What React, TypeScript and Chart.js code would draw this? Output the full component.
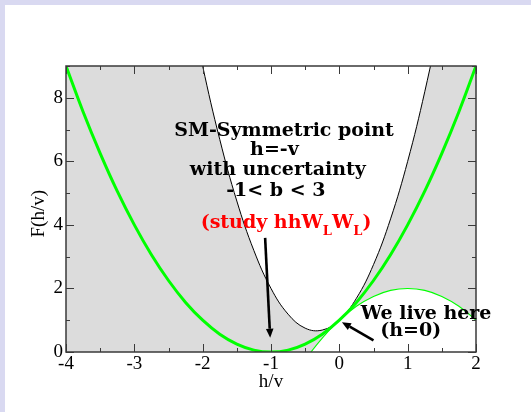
import React, { useEffect, useRef } from 'react';
import { Chart, registerables } from 'chart.js';

Chart.register(...registerables);

// h/v sample points
const H = [-4, -3.75, -3.5, -3.25, -3, -2.75, -2.5, -2.25, -2, -1.75, -1.5, -1.25, -1, -0.75, -0.5, -0.25, 0, 0.25, 0.5, 0.75, 1, 1.25, 1.5, 1.75, 2];
// SM curve (thick green)
const F_SM = [9, 7.56, 6.25, 5.06, 4, 3.06, 2.25, 1.56, 1, 0.56, 0.25, 0.06, 0, 0.06, 0.25, 0.56, 1, 1.56, 2.25, 3.06, 4, 5.06, 6.25, 7.56, 9];
// upper edge of band (black, b = 3)
const F_UPPER = [41, 35.69, 30.75, 26.19, 22, 18.19, 14.75, 11.69, 9, 6.69, 4.75, 3.19, 2, 1.19, 0.75, 0.69, 1, 1.69, 2.75, 4.19, 6, 8.19, 10.75, 13.69, 17];
// lower edge of band (thin green, b = -1)
const F_LOWER = [-23, -20.56, -18.25, -16.06, -14, -12.06, -10.25, -8.56, -7, -5.56, -4.25, -3.06, -2, -1.06, -0.25, 0.44, 1, 1.44, 1.75, 1.94, 2, 1.94, 1.75, 1.44, 1];

const X_TICKS = [-4, -3, -2, -1, 0, 1, 2];
const X_MINOR = [-3.5, -2.5, -1.5, -0.5, 0.5, 1.5];
const Y_TICKS = [0, 2, 4, 6, 8];
const Y_MINOR = [1, 3, 5, 7, 9];

type Piece = { t: string; sub?: boolean };
const LABELS: { pieces: Piece[]; h: number; f: number; color: string }[] = [
  { pieces: [{ t: 'SM-Symmetric point' }], h: -0.81, f: 6.8, color: '#000000' },
  { pieces: [{ t: 'h=-v' }], h: -0.95, f: 6.2, color: '#000000' },
  { pieces: [{ t: 'with uncertainty' }], h: -0.9, f: 5.57, color: '#000000' },
  { pieces: [{ t: '-1< b < 3' }], h: -0.93, f: 4.91, color: '#000000' },
  { pieces: [{ t: '(study hhW' }, { t: 'L', sub: true }, { t: 'W' }, { t: 'L', sub: true }, { t: ')' }], h: -0.78, f: 3.9, color: '#ff0000' },
  { pieces: [{ t: 'We live here' }], h: 1.27, f: 1.04, color: '#000000' },
  { pieces: [{ t: '(h=0)' }], h: 1.045, f: 0.49, color: '#000000' },
];

const ARROWS = [
  { from: [-1.086, 3.59], to: [-1.012, 0.45] },
  { from: [0.5, 0.365], to: [0.038, 0.94] },
];

const MAIN_FONT = 'bold 19px "DejaVu Serif"';
const SUB_FONT = 'bold 13px "DejaVu Serif"';

const framePlugin = {
  id: 'frameTicks',
  afterDraw(chart: any) {
    const { ctx, chartArea: a } = chart;
    const x = chart.scales.x;
    const y = chart.scales.y;
    ctx.save();
    ctx.strokeStyle = '#3a3a3a';
    ctx.lineWidth = 1;
    const seg = (x1: number, y1: number, x2: number, y2: number) => {
      ctx.beginPath();
      ctx.moveTo(x1, y1);
      ctx.lineTo(x2, y2);
      ctx.stroke();
    };
    X_TICKS.forEach((v) => {
      const p = Math.round(x.getPixelForValue(v)) + 0.5;
      seg(p, a.bottom, p, a.bottom - 8);
      seg(p, a.top, p, a.top + 8);
    });
    X_MINOR.forEach((v) => {
      const p = Math.round(x.getPixelForValue(v)) + 0.5;
      seg(p, a.bottom, p, a.bottom - 4);
      seg(p, a.top, p, a.top + 4);
    });
    Y_TICKS.forEach((v) => {
      const p = Math.round(y.getPixelForValue(v)) + 0.5;
      seg(a.left, p, a.left + 8, p);
      seg(a.right, p, a.right - 8, p);
    });
    Y_MINOR.forEach((v) => {
      const p = Math.round(y.getPixelForValue(v)) + 0.5;
      seg(a.left, p, a.left + 4, p);
      seg(a.right, p, a.right - 4, p);
    });
    ctx.lineWidth = 1.5;
    ctx.strokeRect(a.left, a.top, a.right - a.left, a.bottom - a.top);

    // annotations
    ctx.textBaseline = 'alphabetic';
    ctx.textAlign = 'left';
    LABELS.forEach((lab) => {
      let total = 0;
      lab.pieces.forEach((p) => {
        ctx.font = p.sub ? SUB_FONT : MAIN_FONT;
        total += ctx.measureText(p.t).width;
      });
      let cx = x.getPixelForValue(lab.h) - total / 2;
      const by = y.getPixelForValue(lab.f);
      ctx.fillStyle = lab.color;
      lab.pieces.forEach((p) => {
        ctx.font = p.sub ? SUB_FONT : MAIN_FONT;
        ctx.fillText(p.t, cx, p.sub ? by + 7 : by);
        cx += ctx.measureText(p.t).width;
      });
    });

    ARROWS.forEach((ar) => {
      const x1 = x.getPixelForValue(ar.from[0]);
      const y1 = y.getPixelForValue(ar.from[1]);
      const x2 = x.getPixelForValue(ar.to[0]);
      const y2 = y.getPixelForValue(ar.to[1]);
      const ang = Math.atan2(y2 - y1, x2 - x1);
      const hl = 9;
      const hw = 3.8;
      const bx = x2 - hl * Math.cos(ang);
      const byy = y2 - hl * Math.sin(ang);
      ctx.strokeStyle = '#000';
      ctx.lineWidth = 2.6;
      ctx.beginPath();
      ctx.moveTo(x1, y1);
      ctx.lineTo(bx, byy);
      ctx.stroke();
      ctx.fillStyle = '#000';
      ctx.beginPath();
      ctx.moveTo(x2, y2);
      ctx.lineTo(bx + hw * Math.sin(ang), byy - hw * Math.cos(ang));
      ctx.lineTo(bx - hw * Math.sin(ang), byy + hw * Math.cos(ang));
      ctx.closePath();
      ctx.fill();
    });
    ctx.restore();
  },
};

export default function App() {
  const ref = useRef<HTMLCanvasElement | null>(null);
  useEffect(() => {
    if (!ref.current) return;
    const pts = (arr: number[]) => H.map((h, i) => ({ x: h, y: arr[i] }));
    const serif = () => ({ family: 'Liberation Serif', size: 19 });
    const chart = new Chart(ref.current, {
      type: 'line',
      data: {
        datasets: [
          { data: pts(F_SM), borderColor: '#00ff00', borderWidth: 3, pointRadius: 0, tension: 0.4, fill: false },
          { data: pts(F_LOWER), borderColor: '#00ff00', borderWidth: 1.1, pointRadius: 0, tension: 0.4, fill: false },
          {
            data: pts(F_UPPER),
            borderColor: '#000000',
            borderWidth: 1,
            pointRadius: 0,
            tension: 0.4,
            backgroundColor: '#dcdcdc',
            fill: { target: 1, above: '#dcdcdc', below: '#dcdcdc' },
          },
        ],
      } as any,
      options: {
        animation: false,
        responsive: false,
        maintainAspectRatio: false,
        events: [],
        font: { family: 'Liberation Serif', size: 19 },
        layout: { padding: { left: 0, top: 66, right: 55, bottom: 0 } },
        plugins: {
          legend: { display: false },
          tooltip: { enabled: false },
          filler: { drawTime: 'beforeDatasetsDraw' },
        } as any,
        scales: {
          x: {
            type: 'linear',
            min: -4,
            max: 2,
            afterBuildTicks: (s: any) => {
              s.ticks = X_TICKS.map((v) => ({ value: v }));
            },
            afterFit: (s: any) => {
              s.height = 60;
            },
            grid: { display: false, drawTicks: false },
            border: { display: false },
            ticks: { color: '#000', font: serif(), padding: 1, maxRotation: 0, autoSkip: false },
            title: { display: true, text: 'h/v', color: '#000', font: serif(), padding: { top: 0, bottom: 19 } },
          },
          y: {
            type: 'linear',
            min: 0,
            max: 9,
            afterBuildTicks: (s: any) => {
              s.ticks = Y_TICKS.map((v) => ({ value: v }));
            },
            afterFit: (s: any) => {
              s.width = 66;
            },
            grid: { display: false, drawTicks: false },
            border: { display: false },
            ticks: { color: '#000', font: serif(), padding: 3, autoSkip: false },
            title: { display: true, text: 'F(h/v)  ', color: '#000', font: serif(), padding: { top: 28, bottom: 0 } },
          },
        },
      } as any,
      plugins: [framePlugin],
    });
    return () => chart.destroy();
  }, []);

  return (
    <div style={{ position: 'fixed', left: 0, top: 0, width: 531, height: 412, background: '#d9d9f1', overflow: 'hidden' }}>
      <div style={{ position: 'absolute', left: 5, top: 5, width: 526, height: 407, background: '#ffffff' }} />
      <canvas ref={ref} width={531} height={412} style={{ position: 'absolute', left: 0, top: 0, width: 531, height: 412 }} />
    </div>
  );
}
